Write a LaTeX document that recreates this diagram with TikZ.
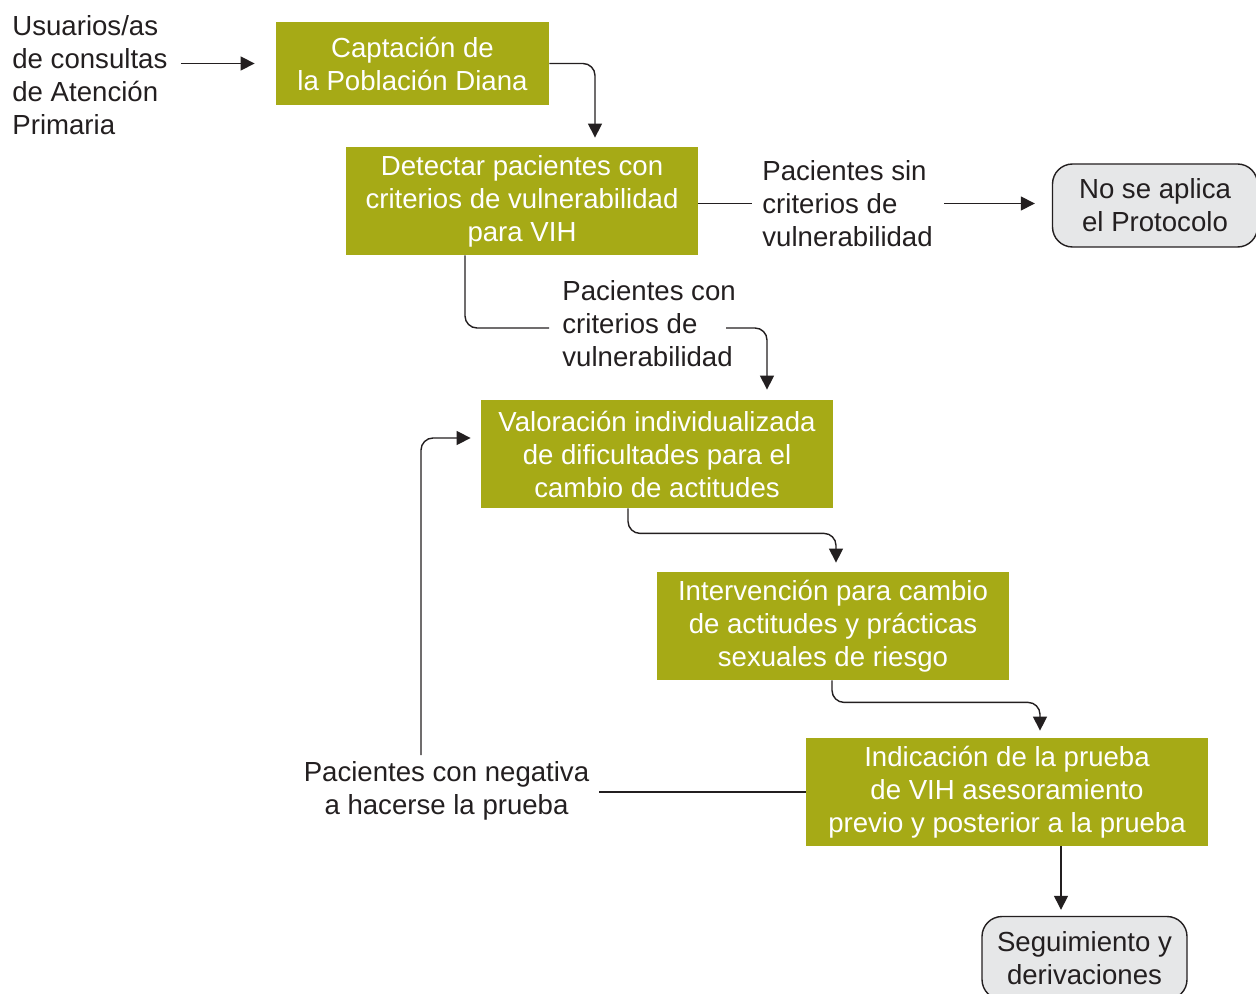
\documentclass[tikz,border=0pt]{standalone}
\usepackage{fontspec}
\setmainfont{Liberation Sans}
\usetikzlibrary{arrows.meta,calc}
\definecolor{oliva}{RGB}{166,170,22}
\definecolor{gris}{RGB}{230,231,232}
\definecolor{tinta}{RGB}{35,31,32}
\tikzset{
    block/.style = {fill=oliva, text=white, align=center, inner sep=0pt,
        minimum width=176pt,
        minimum height=54pt},
    final/.style = {draw=tinta, fill=gris, text=tinta, align=center, inner sep=0pt,
        rounded corners=10pt, line width=0.7pt,
        minimum width=102.5pt,
        minimum height=41.5pt},
    txt/.style = {text=tinta, inner sep=0pt},
    arrow/.style = {draw=tinta, line width=0.7pt, rounded corners=6pt,
        -{Triangle[length=7pt,width=7pt]}},
    line/.style = {draw=tinta, line width=0.7pt, rounded corners=6pt}
}

\begin{document}
\begin{tikzpicture}[x=0.5pt, y=-0.5pt, font=\fontsize{13.8}{16.5}\selectfont]
    \useasboundingbox (0,0) rectangle (1256,994);
    % cajas
    \node[txt, align=left, anchor=west] (users) at (12,75) {Usuarios/as\\de consultas\\de Atención\\Primaria};
    \node[block, minimum width=136.5pt, minimum height=41.5pt] (capt) at (412.5,63.5) {Captación de\\la Población Diana};
    \node[block] (detect) at (522,201) {Detectar pacientes con\\criterios de vulnerabilidad\\para VIH};
    \node[txt, align=left, anchor=west] (sin) at (762,203.5) {Pacientes sin\\criterios de\\vulnerabilidad};
    \node[final] (noapl) at (1155,205.5) {No se aplica\\el Protocolo};
    \node[txt, align=left, anchor=west] (con) at (562,323.5) {Pacientes con\\criterios de\\vulnerabilidad};
    \node[block] (valor) at (657,454) {Valoración individualizada\\de dificultades para el\\cambio de actitudes};
    \node[block] (interv) at (833,626) {Intervención para cambio\\de actitudes y prácticas\\sexuales de riesgo};
    \node[block, minimum width=201pt] (indic) at (1007,792) {Indicación de la prueba\\de VIH asesoramiento\\previo y posterior a la prueba};
    \node[txt, align=center] (neg) at (446.5,791) {Pacientes con negativa\\a hacerse la prueba};
    \node[final] (segui) at (1084.5,958) {Seguimiento y\\derivaciones};
    % flechas
    \draw[arrow, shorten <=6.5pt, shorten >=10.5pt] (users.east |- capt.west) -- (capt.west);
    \draw[arrow, shorten >=4.5pt] (capt.east) -| ([xshift=36.5pt]detect.north);
    \draw[line, shorten >=5pt] (detect.east |- sin.west) -- (sin.west);
    \draw[arrow, shorten <=5.5pt, shorten >=8.5pt] (sin.east) -- (sin.east -| noapl.west);
    \draw[line, shorten >=6.5pt] ([xshift=-28.5pt]detect.south) |- ([yshift=-2.25pt]con.west);
    \draw[arrow, shorten >=5pt] ([xshift=-5pt,yshift=-2.25pt]con.east) -| ([xshift=55pt]valor.north);
    \draw[arrow, shorten >=4.5pt] ([xshift=-14.5pt]valor.south) -- ++(0,25) -| ([xshift=1.5pt]interv.north);
    \draw[arrow, shorten >=3.5pt] ([xshift=-0.5pt]interv.south) -- ++(0,22) -| ([xshift=16.5pt]indic.north);
    \draw[line, shorten >=4.5pt] (indic.west) -- (indic.west -| neg.east);
    \draw[arrow, shorten <=3pt, shorten >=5pt] ([xshift=-12.75pt]neg.north) |- ([yshift=8pt]valor.west);
    \draw[arrow, shorten >=3pt] ([xshift=27pt]indic.south) -- ([xshift=27pt]indic.south |- segui.north);
\end{tikzpicture}
\end{document}
